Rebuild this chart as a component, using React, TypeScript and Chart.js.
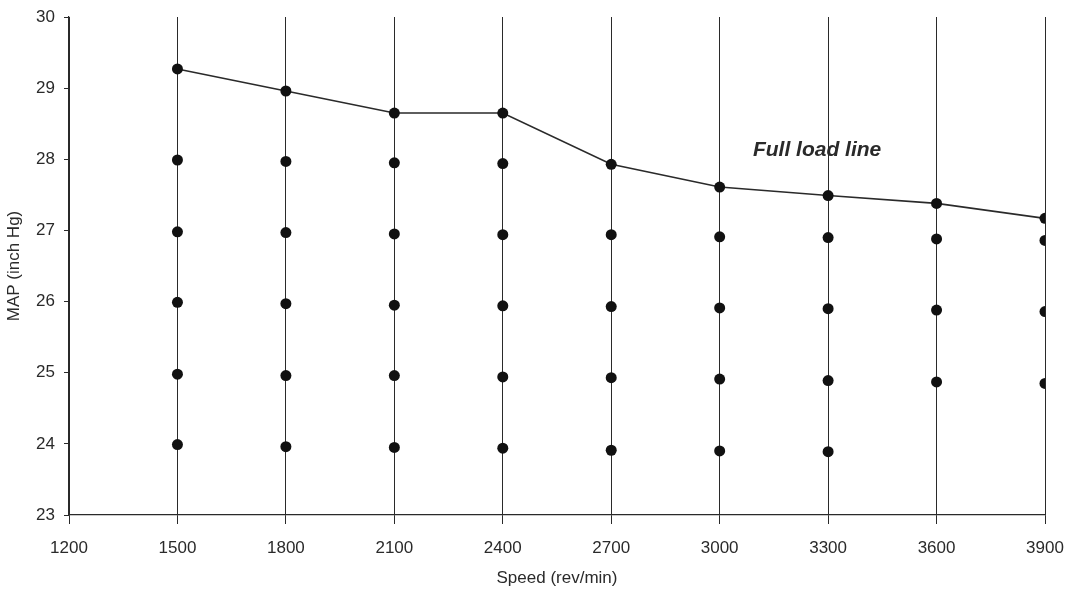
import React, { useEffect, useRef } from "react";
import { Chart, registerables } from "chart.js";

Chart.register(...registerables);

// ---- Data ----
const speeds = [1500, 1800, 2100, 2400, 2700, 3000, 3300, 3600, 3900];
const fullLoadMAP = [29.27, 28.96, 28.65, 28.65, 27.93, 27.61, 27.49, 27.38, 27.17];
const map28 = [27.99, 27.97, 27.95, 27.94, null, null, null, null, null];
const map27 = [26.98, 26.97, 26.95, 26.94, 26.94, 26.91, 26.9, 26.88, 26.86];
const map26 = [25.99, 25.97, 25.95, 25.94, 25.93, 25.91, 25.9, 25.88, 25.86];
const map25 = [24.98, 24.96, 24.96, 24.94, 24.93, 24.91, 24.89, 24.87, 24.85];
const map24 = [23.99, 23.96, 23.95, 23.94, 23.91, 23.9, 23.89, null, null];

const xMin = 1200;
const xMax = 3900;
const xStep = 300;
const yMin = 23;
const yMax = 30;
const yStep = 1;

const xTitle = "Speed (rev/min)";
const yTitle = "MAP (inch Hg)";
const annotationText = "Full load line";
const annotationX = 3092;
const annotationY = 28.13;

const FONT = "'Liberation Sans', Arial, sans-serif";
const INK = "#2a2a2a";

export default function App() {
  const canvasRef = useRef<HTMLCanvasElement | null>(null);

  useEffect(() => {
    document.body.style.margin = "0";
    document.body.style.background = "#ffffff";
    const canvas = canvasRef.current;
    if (!canvas) return;

    const fullLoadData = speeds.map((s, i) => ({ x: s, y: fullLoadMAP[i] }));
    const rows = [map28, map27, map26, map25, map24];
    const gridPoints: { x: number; y: number }[] = [];
    rows.forEach((row) =>
      row.forEach((v, i) => {
        if (v !== null) gridPoints.push({ x: speeds[i], y: v as number });
      })
    );

    const annotationPlugin = {
      id: "fullLoadLabel",
      afterDatasetsDraw(chart: any) {
        const { ctx, scales } = chart;
        const px = scales.x.getPixelForValue(annotationX);
        const py = scales.y.getPixelForValue(annotationY);
        ctx.save();
        ctx.font = `italic bold 21px ${FONT}`;
        ctx.fillStyle = INK;
        ctx.textAlign = "left";
        ctx.textBaseline = "middle";
        ctx.fillText(annotationText, px, py);
        ctx.restore();
      },
    };

    const chart = new Chart(canvas, {
      type: "scatter",
      data: {
        datasets: [
          {
            label: "Full load",
            data: fullLoadData,
            showLine: true,
            borderColor: INK,
            borderWidth: 1.6,
            backgroundColor: "#111111",
            pointBackgroundColor: "#111111",
            pointBorderColor: "#111111",
            pointRadius: 5.5,
            pointBorderWidth: 0,
          },
          {
            label: "Test points",
            data: gridPoints,
            showLine: false,
            backgroundColor: "#111111",
            pointBackgroundColor: "#111111",
            pointBorderColor: "#111111",
            pointRadius: 5.5,
            pointBorderWidth: 0,
          },
        ],
      },
      options: {
        responsive: false,
        animation: false,
        devicePixelRatio: 1,
        layout: { padding: { left: 0, top: 17, right: 28, bottom: 0 } },
        plugins: {
          legend: { display: false },
          tooltip: { enabled: false },
        },
        scales: {
          x: {
            type: "linear",
            min: xMin,
            max: xMax,
            afterFit: (scale: any) => {
              scale.height = 75;
              scale.paddingLeft = 0;
              scale.paddingRight = 0;
            },
            ticks: {
              stepSize: xStep,
              padding: 14,
              color: INK,
              font: { family: FONT, size: 17 },
              maxRotation: 0,
              callback: (v: any) => String(v),
            },
            grid: {
              display: true,
              color: INK,
              lineWidth: 1,
              tickLength: 9,
              drawOnChartArea: true,
            },
            border: { display: true, color: INK, width: 1.2 },
            title: {
              display: true,
              text: xTitle,
              color: INK,
              font: { family: FONT, size: 17 },
              padding: { top: 0, bottom: 1 },
            },
          },
          y: {
            type: "linear",
            min: yMin,
            max: yMax,
            afterFit: (scale: any) => {
              scale.width = 69;
              scale.paddingTop = 0;
              scale.paddingBottom = 0;
            },
            ticks: {
              stepSize: yStep,
              padding: 9,
              color: INK,
              font: { family: FONT, size: 17 },
              callback: (v: any) => String(v),
            },
            grid: {
              display: true,
              color: INK,
              lineWidth: 1,
              tickLength: 5,
              drawOnChartArea: false,
            },
            border: { display: true, color: INK, width: 1.2 },
            title: {
              display: true,
              text: yTitle,
              color: INK,
              font: { family: FONT, size: 17 },
              padding: { top: 4, bottom: 0 },
            },
          },
        },
      },
      plugins: [annotationPlugin],
    });

    return () => {
      chart.destroy();
    };
  }, []);

  return (
    <div style={{ position: "absolute", left: 0, top: 0, width: 1073, height: 590, background: "#fff" }}>
      <canvas ref={canvasRef} width={1073} height={590} />
    </div>
  );
}
